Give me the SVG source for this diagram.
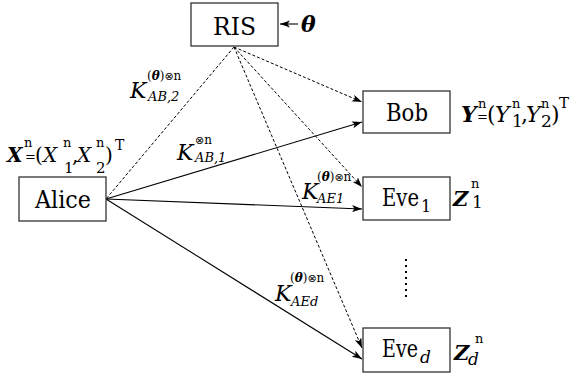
<svg xmlns="http://www.w3.org/2000/svg" width="571" height="378" viewBox="0 0 571 378">
<style>
.box{fill:#fff;stroke:#333;stroke-width:1.3}
.t{fill:#000;font-family:'DejaVu Serif',serif}
.bi{font-weight:bold;font-style:italic}
.it{font-style:italic}
.op{font-family:'DejaVu Sans',sans-serif;font-style:normal;font-weight:normal}
.sol{stroke:#000;stroke-width:1.1;fill:none}
.dash{stroke:#000;stroke-width:1;fill:none;stroke-dasharray:3 2}
</style>
<defs>
<marker id="ah" markerUnits="userSpaceOnUse" markerWidth="11" markerHeight="8" refX="10" refY="3.5" orient="auto">
<path d="M0,0 L10,3.5 L0,7 L2.5,3.5 z" fill="#000"/>
</marker>
</defs>
<g id="connectors">
<line class="sol" x1="106" y1="199" x2="362" y2="122" marker-end="url(#ah)"/>
<line class="sol" x1="106" y1="199" x2="362" y2="209" marker-end="url(#ah)"/>
<line class="sol" x1="106" y1="199" x2="362" y2="359" marker-end="url(#ah)"/>
<line class="dash" x1="234" y1="47" x2="106" y2="199"/>
<line class="dash" x1="234" y1="47" x2="362" y2="102" marker-end="url(#ah)"/>
<line class="dash" x1="234" y1="47" x2="362" y2="187" marker-end="url(#ah)"/>
<line class="dash" x1="234" y1="47" x2="362" y2="348" marker-end="url(#ah)"/>
<line class="sol" x1="298" y1="24" x2="280" y2="24" marker-end="url(#ah)"/>
</g>
<g id="ris">
<rect class="box" x="191" y="3" width="87" height="43"/>
<text class="t" x="213" y="35" font-size="25" textLength="43" lengthAdjust="spacingAndGlyphs">RIS</text>
</g>
<g id="theta">
<text class="t bi" x="301" y="32" font-size="22">θ</text>
</g>
<g id="alice">
<rect class="box" x="19" y="177" width="87" height="44"/>
<text class="t" x="35" y="208" font-size="25" textLength="56" lengthAdjust="spacingAndGlyphs">Alice</text>
</g>
<g id="bob">
<rect class="box" x="363" y="91" width="87" height="42"/>
<text class="t" x="386" y="121" font-size="25" textLength="42" lengthAdjust="spacingAndGlyphs">Bob</text>
</g>
<g id="eve1">
<rect class="box" x="363" y="177" width="87" height="43"/>
<text class="t" font-size="25"><tspan x="382" y="206" textLength="37" lengthAdjust="spacingAndGlyphs">Eve</tspan><tspan x="421" y="212" font-size="16">1</tspan></text>
</g>
<g id="eved">
<rect class="box" x="363" y="328" width="87" height="44"/>
<text class="t" font-size="25"><tspan x="382" y="357" textLength="36" lengthAdjust="spacingAndGlyphs">Eve</tspan><tspan x="420" y="363" font-size="17" class="it">d</tspan></text>
</g>
<g id="labels">
<text class="t" font-size="20"><tspan x="7" y="162" class="bi">X</tspan><tspan x="24" y="147" font-size="13">n</tspan><tspan x="25" y="161" font-size="13">=</tspan><tspan x="35" y="162">(</tspan><tspan x="43" y="162" class="it">X</tspan><tspan x="63" y="147" font-size="13">n</tspan><tspan x="64" y="173" font-size="15">1</tspan><tspan x="72" y="162">,</tspan><tspan x="77" y="162" class="it">X</tspan><tspan x="96" y="147" font-size="13">n</tspan><tspan x="96" y="173" font-size="15">2</tspan><tspan x="105" y="162">)</tspan><tspan x="115" y="150" font-size="14">T</tspan></text>
<text class="t" font-size="22"><tspan x="461" y="122" class="bi">Y</tspan><tspan x="478" y="108" font-size="13">n</tspan><tspan x="477" y="121" font-size="13">=</tspan><tspan x="487" y="122">(</tspan><tspan x="495" y="122" class="it">Y</tspan><tspan x="512" y="108" font-size="13">n</tspan><tspan x="512" y="127" font-size="17">1</tspan><tspan x="521" y="122">,</tspan><tspan x="526" y="122" class="it">Y</tspan><tspan x="541" y="108" font-size="13">n</tspan><tspan x="541" y="127" font-size="17">2</tspan><tspan x="551" y="122">)</tspan><tspan x="559" y="108" font-size="15">T</tspan></text>
<text class="t" font-size="21"><tspan x="453" y="206" class="bi">Z</tspan><tspan x="471" y="188" font-size="13">n</tspan><tspan x="472" y="208" font-size="17">1</tspan></text>
<text class="t" font-size="21"><tspan x="454" y="360" class="bi">Z</tspan><tspan x="475" y="343" font-size="13">n</tspan><tspan x="468" y="365" font-size="17" class="it">d</tspan></text>
<text class="t" font-size="22"><tspan x="130" y="98" class="it">K</tspan><tspan x="147" y="80" font-size="12">(<tspan class="bi">θ</tspan>)<tspan class="op" font-size="11">⊗</tspan>n</tspan><tspan x="148" y="101" font-size="13" class="it">AB,2</tspan></text>
<text class="t" font-size="22"><tspan x="177" y="160" class="it">K</tspan><tspan x="195" y="144" font-size="12"><tspan class="op" font-size="11">⊗</tspan>n</tspan><tspan x="195" y="162" font-size="13" class="it">AB,1</tspan></text>
<text class="t" font-size="22"><tspan x="302" y="199" class="it">K</tspan><tspan x="317" y="181" font-size="12">(<tspan class="bi">θ</tspan>)<tspan class="op" font-size="11">⊗</tspan>n</tspan><tspan x="317" y="203" font-size="13" class="it">AE1</tspan></text>
<text class="t" font-size="22"><tspan x="275" y="301" class="it">K</tspan><tspan x="290" y="282" font-size="12">(<tspan class="bi">θ</tspan>)<tspan class="op" font-size="11">⊗</tspan>n</tspan><tspan x="291" y="306" font-size="13" class="it">AEd</tspan></text>
</g>
<g id="dots">
<line x1="406" y1="259" x2="406" y2="297" stroke="#000" stroke-width="2" stroke-dasharray="2 4"/>
</g>
</svg>
